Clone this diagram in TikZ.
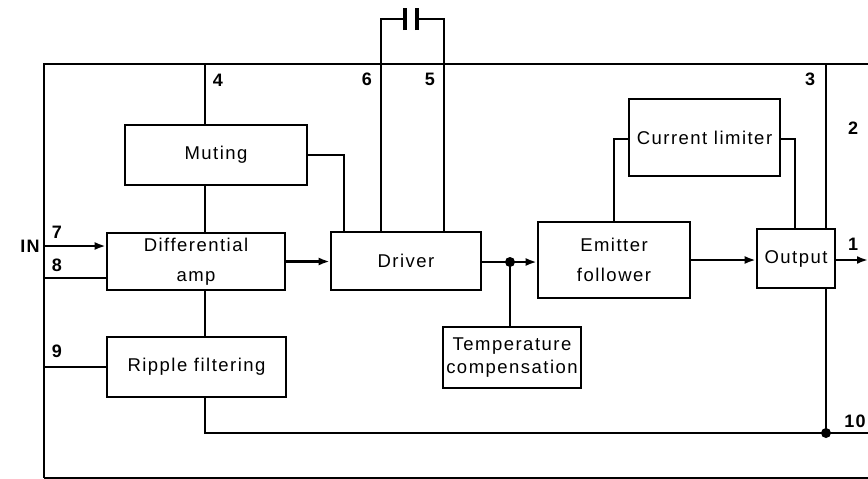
\documentclass[tikz,border=0pt]{standalone}
\usepackage{fontspec}
\setmainfont{Liberation Sans}[LetterSpace=8]
\usetikzlibrary{arrows.meta}
\newcommand\blkfont{\fontsize{18.5}{30}\selectfont}
\newcommand\tightfont{\fontsize{18.5}{23}\selectfont}
\newcommand\pinfont{\fontsize{18}{20}\selectfont\bfseries}
\begin{document}
\begin{tikzpicture}[x=1pt,y=-1pt,
  blk/.style={draw, line width=2.6pt, align=center, inner sep=0pt, font=\blkfont},
  ln/.style={line width=2.2pt},
  frm/.style={line width=2.8pt},
  arr/.style={ln, -{Latex[length=11pt,width=8pt]}},
  pin/.style={font=\pinfont, inner sep=0pt}]
\useasboundingbox (0,0) rectangle (868,479);
% coordinates
\coordinate (tl) at (44,64);
\coordinate (bl) at (44,478);
\coordinate (tr) at (868,64);
\coordinate (br) at (868,478);
\coordinate (p4) at (205,64);
\coordinate (p6) at (381,64);
\coordinate (p5) at (444,64);
\coordinate (p3) at (826,64);
\coordinate (c6) at (381,19);
\coordinate (c5) at (444,19);
\coordinate (cpa) at (405,19);
\coordinate (cpb) at (417,19);
\coordinate (in7) at (44,246);
\coordinate (in8) at (44,278);
\coordinate (in9) at (44,367);
\coordinate (j) at (510,262);
\coordinate (k) at (826,433);
\coordinate (r10) at (868,433);
\coordinate (o1) at (868,260);
\coordinate (mx) at (344,155);
\coordinate (cla) at (614,139);
\coordinate (clb) at (795,139);
% blocks
\node[blk, minimum width=182pt, minimum height=60pt] (mut) at (216,155) {Muting};
\node[blk, minimum width=178pt, minimum height=57pt] (dif) at (196,261.5) {Differential\\amp};
\node[blk, minimum width=150pt, minimum height=58pt] (drv) at (406,261) {Driver};
\node[blk, minimum width=152pt, minimum height=76pt] (emf) at (614,260) {Emitter\\follower};
\node[blk, minimum width=78pt, minimum height=59pt] (out) at (796,258.5) {Output};
\node[blk, minimum width=151pt, minimum height=77pt] (cl) at (704.5,137.5) {Current limiter};
\node[blk, minimum width=179pt, minimum height=60pt] (rip) at (196.5,367) {Ripple filtering};
\node[blk, minimum width=138pt, minimum height=61pt, font=\tightfont] (tmp) at (512,357.5) {Temperature\\compensation};
% frame
\draw[frm] (tr) -- (tl) -- (bl);
\draw[line width=1.8pt] (bl) -- (br);
% connections
\draw[ln] (p4) -- (p4 |- mut.north);
\draw[ln] (mut.south -| p4) -- (dif.north -| p4);
\draw[ln] (dif.south -| p4) -- (rip.north -| p4);
\draw[ln] (mut.east) -| (drv.north -| mx);
\draw[ln] (drv.north -| p6) -- (c6) -- (cpa);
\draw[ln] (cpb) -- (c5) -- (drv.north -| p5);
\draw[line width=3.2pt] ([yshift=-11pt]cpa) -- ([yshift=11pt]cpa);
\draw[line width=3.2pt] ([yshift=-11pt]cpb) -- ([yshift=11pt]cpb);
\draw[ln] (p3) -- (out.north -| p3);
\draw[ln] (out.south -| p3) -- (k);
\draw[ln] (rip.south -| p4) |- (r10);
\fill (k) circle (5pt);
\draw[ln] (cl.west |- cla) -| (emf.north -| cla);
\draw[ln] (cl.east |- clb) -| (out.north -| clb);
\draw[arr] (in7) -- (in7 -| dif.west);
\draw[ln] (in8) -- (in8 -| dif.west);
\draw[ln] (in9) -- (in9 -| rip.west);
\draw[arr] (dif.east) -- (drv.west |- dif.east);
\draw[ln] (drv.east |- j) -- (j);
\draw[arr] (j) -- (j -| emf.west);
\draw[ln] (j) -- (j |- tmp.north);
\fill (j) circle (5pt);
\draw[arr] (emf.east |- o1) -- (out.west |- o1);
\draw[arr] (out.east |- o1) -- (o1);
% pin labels
\node[pin] (l4) at (218,80) {4};
\node[pin] (l6) at (367,79) {6};
\node[pin] (l5) at (430,79) {5};
\node[pin] (l3) at (810,79) {3};
\node[pin] (l2) at (853,128) {2};
\node[pin] (lin) at (30,246) {IN};
\node[pin] (l7) at (57,232) {7};
\node[pin] (l8) at (57,265) {8};
\node[pin] (l9) at (57,351) {9};
\node[pin] (l1) at (853,244) {1};
\node[pin] (l10) at (855,421) {10};
\end{tikzpicture}
\end{document}
